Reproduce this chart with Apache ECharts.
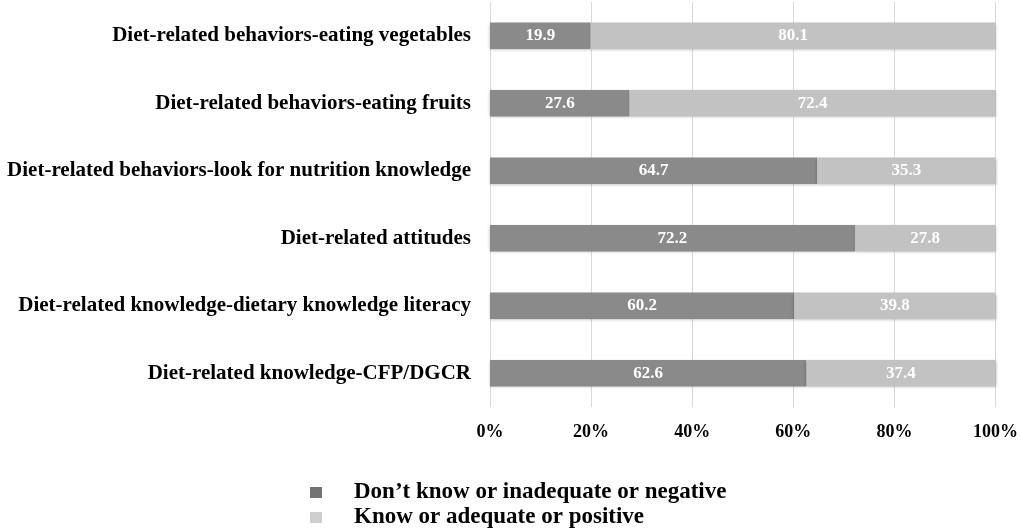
<!DOCTYPE html>
<html><head><meta charset="utf-8">
<script src="https://cdn.jsdelivr.net/npm/echarts@6/dist/echarts.min.js"></script>
<style>html,body{margin:0;padding:0;background:#fff}#c{width:1021px;height:528px}</style>
</head><body><div id="c"></div>
<script>
const categories = [
  "Diet-related knowledge-CFP/DGCR",
  "Diet-related knowledge-dietary knowledge literacy",
  "Diet-related attitudes",
  "Diet-related behaviors-look for nutrition knowledge",
  "Diet-related behaviors-eating fruits",
  "Diet-related behaviors-eating vegetables"
];
const negativeValues = [62.6, 60.2, 72.2, 64.7, 27.6, 19.9];
const positiveValues = [37.4, 39.8, 27.8, 35.3, 72.4, 80.1];
const seriesNames = ["Don\u2019t know or inadequate or negative", "Know or adequate or positive"];

const font = "Liberation Serif";
const chart = echarts.init(document.getElementById('c'));
const lbl = {show:true, position:'inside', color:'#fff', fontFamily:font, fontWeight:'bold', fontSize:17, formatter:p=>p.value.toFixed(1)};
const legTxt = {fontFamily:font, fontWeight:'bold', fontSize:23, color:'#000', padding:[0,0,0,27]};
chart.setOption({
  animation:false,
  grid:{left:490, right:24, top:2, bottom:121, containLabel:false},
  legend:[
    {data:[{name:seriesNames[0], itemStyle:{color:'#737373'}}], left:305, top:476, itemWidth:12, itemHeight:11, icon:'rect', textStyle:legTxt},
    {data:[{name:seriesNames[1], itemStyle:{color:'#cfcfcf'}}], left:305, top:501, itemWidth:12, itemHeight:11, icon:'rect', textStyle:legTxt}
  ],
  xAxis:{type:'value', min:0, max:100, interval:20,
    axisLabel:{formatter:'{value}%', fontFamily:font, fontWeight:'bold', fontSize:18, color:'#000', margin:16},
    splitLine:{lineStyle:{color:'#d9d9d9'}}, axisLine:{show:false}, axisTick:{show:false}},
  yAxis:{type:'category', data:categories,
    axisLabel:{fontFamily:font, fontWeight:'bold', fontSize:21, color:'#000', margin:19},
    axisLine:{show:false}, axisTick:{show:false}},
  series:[
    {name:seriesNames[0], type:'bar', stack:'a', data:negativeValues, barWidth:'39%',
     itemStyle:{color:'#8a8a8a', shadowBlur:3, shadowColor:'rgba(0,0,0,0.3)', shadowOffsetY:1}, label:lbl},
    {name:seriesNames[1], type:'bar', stack:'a', data:positiveValues, barWidth:'39%',
     itemStyle:{color:'#c2c2c2', shadowBlur:3, shadowColor:'rgba(0,0,0,0.3)', shadowOffsetY:1}, label:lbl}
  ]
});
</script></body></html>
